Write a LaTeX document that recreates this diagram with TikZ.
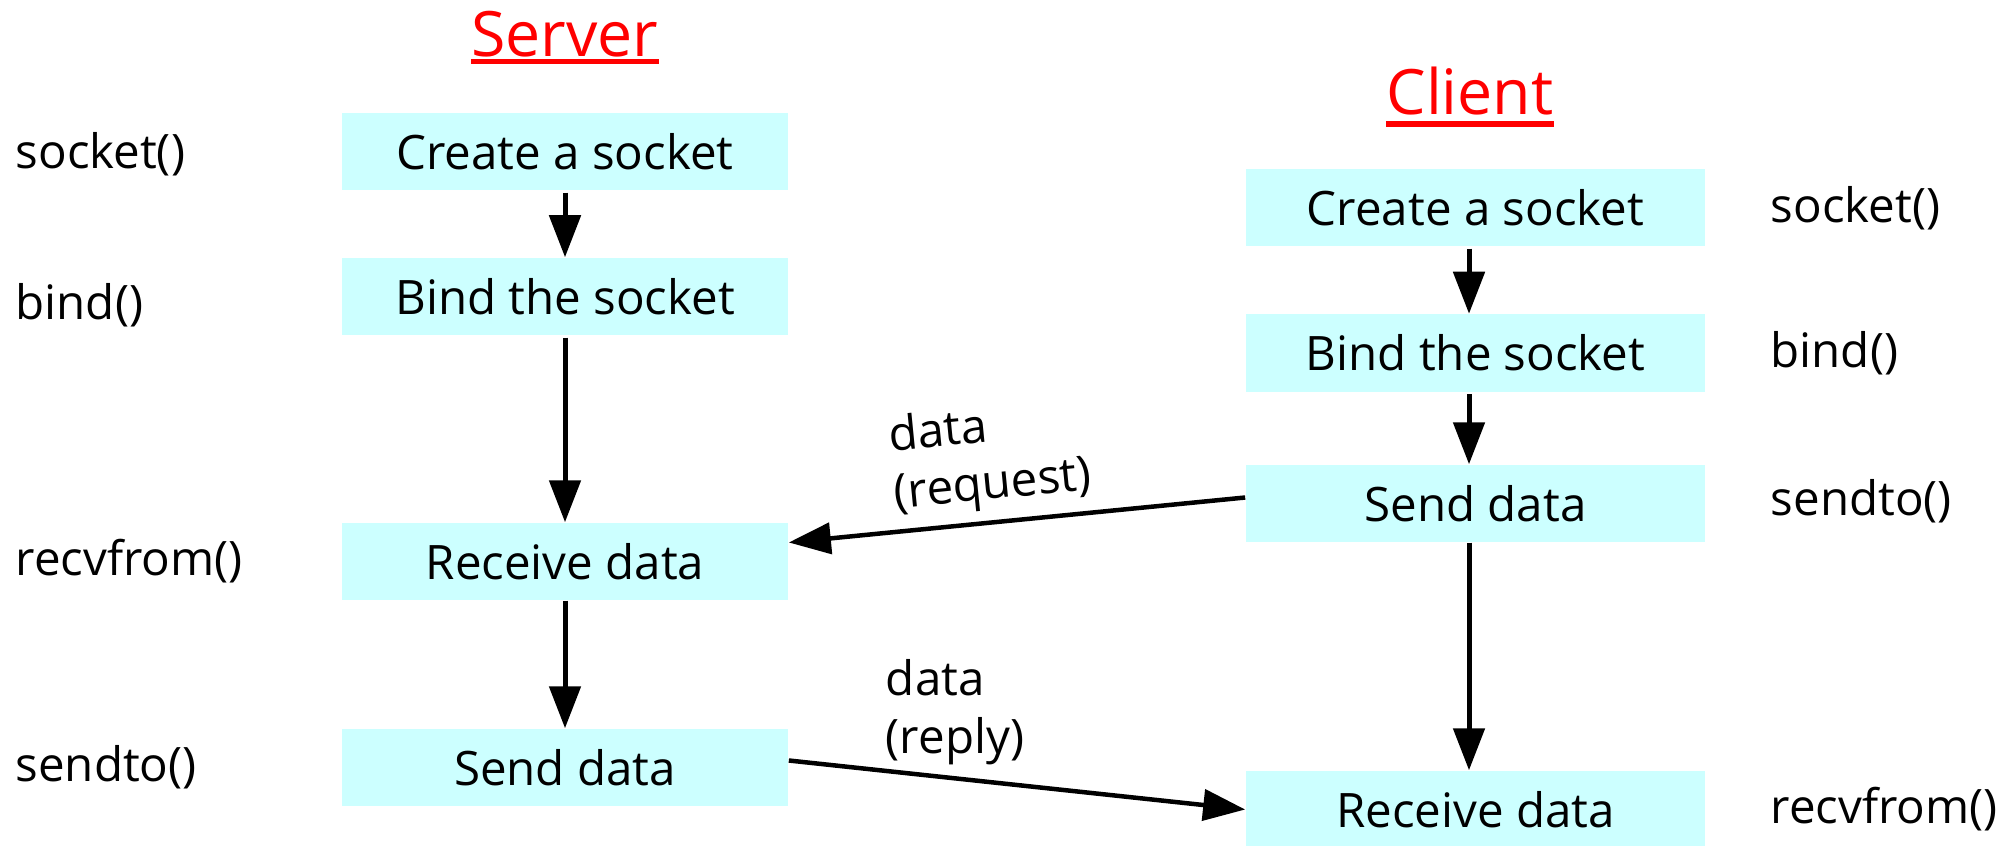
\documentclass[tikz,border=0pt]{standalone}
\usepackage{fontspec}
\setmainfont{Open Sans}
\usetikzlibrary{arrows.meta}
\definecolor{boxcyan}{HTML}{CCFFFF}

\begin{document}
\begin{tikzpicture}[x=0.01cm, y=-0.01cm,
    stepbox/.style={fill=boxcyan, minimum height=0.77cm, inner sep=0pt,
      font=\fontsize{13.5}{16.2}\selectfont},
    fname/.style={anchor=west, inner sep=0pt, font=\fontsize{13.5}{16.2}\selectfont},
    msg/.style={align=left, inner sep=0pt, font=\fontsize{13.5}{16.4}\selectfont},
    sidetitle/.style={anchor=base, inner xsep=0pt, text=red,
      font=\fontsize{17.8}{20}\selectfont},
    flow/.style={line width=0.05cm, -{Triangle[length=0.42cm, width=0.31cm]}}]
    % Define coordinates
    \def\srvX{565}
    \def\cliX{1475.5}
    \def\srvW{4.46cm}
    \def\cliW{4.59cm}
    \useasboundingbox (0,0) rectangle (2013,846);

    % Titles
    \node[sidetitle] (srvtitle) at (\srvX, 57) {Server};
    \node[sidetitle] (clititle) at (1470, 115) {Client};
    \draw[red, line width=0.05cm] ([yshift=-0.045cm]srvtitle.base west) -- ([yshift=-0.045cm]srvtitle.base east);
    \draw[red, line width=0.05cm] ([yshift=-0.09cm]clititle.base west) -- ([yshift=-0.09cm]clititle.base east);

    % Server steps
    \node[stepbox, minimum width=\srvW] (s1) at (\srvX, 151.5) {Create a socket};
    \node[stepbox, minimum width=\srvW] (s2) at (\srvX, 296.5) {Bind the socket};
    \node[stepbox, minimum width=\srvW] (s3) at (\srvX, 561.5) {Receive data};
    \node[stepbox, minimum width=\srvW] (s4) at (\srvX, 767.5) {Send data};

    % Client steps
    \node[stepbox, minimum width=\cliW] (c1) at (\cliX, 207.5) {Create a socket};
    \node[stepbox, minimum width=\cliW] (c2) at (\cliX, 353) {Bind the socket};
    \node[stepbox, minimum width=\cliW] (c3) at (\cliX, 503.5) {Send data};
    \node[stepbox, minimum width=\cliW] (c4) at (\cliX, 809.5) {Receive data};

    % Function names
    \node[fname] (s1f) at (15, 154) {socket()};
    \node[fname] (s2f) at (15, 305) {bind()};
    \node[fname] (s3f) at (15, 561) {recvfrom()};
    \node[fname] (s4f) at (15, 767) {sendto()};
    \node[fname] (c1f) at (1770, 208) {socket()};
    \node[fname] (c2f) at (1770, 353) {bind()};
    \node[fname] (c3f) at (1770, 501) {sendto()};
    \node[fname] (c4f) at (1770, 809) {recvfrom()};

    % Steps on each side
    \draw[flow, shorten <=0.02cm] (s1) -- (s2);
    \draw[flow, shorten <=0.02cm] (s2) -- (s3);
    \draw[flow] (s3) -- (s4);
    \draw[flow, shorten <=0.02cm] ([xshift=-0.065cm]c1.south) -- ([xshift=-0.065cm]c2.north);
    \draw[flow, shorten <=0.02cm] ([xshift=-0.065cm]c2.south) -- ([xshift=-0.065cm]c3.north);
    \draw[flow] ([xshift=-0.065cm]c3.south) -- ([xshift=-0.065cm]c4.north);

    % Messages between the two
    \draw[flow, line width=0.045cm] ([yshift=0.06cm]c3.west) -- ([yshift=0.19cm]s3.east);
    \draw[flow, line width=0.045cm] ([yshift=0.07cm]s4.east) -- (c4.west);
    \node[msg, rotate=5.6] (reqlbl) at (990, 458) {data\\(request)};
    \node[msg] (replbl) at (955, 712) {data\\(reply)};
\end{tikzpicture}
\end{document}
